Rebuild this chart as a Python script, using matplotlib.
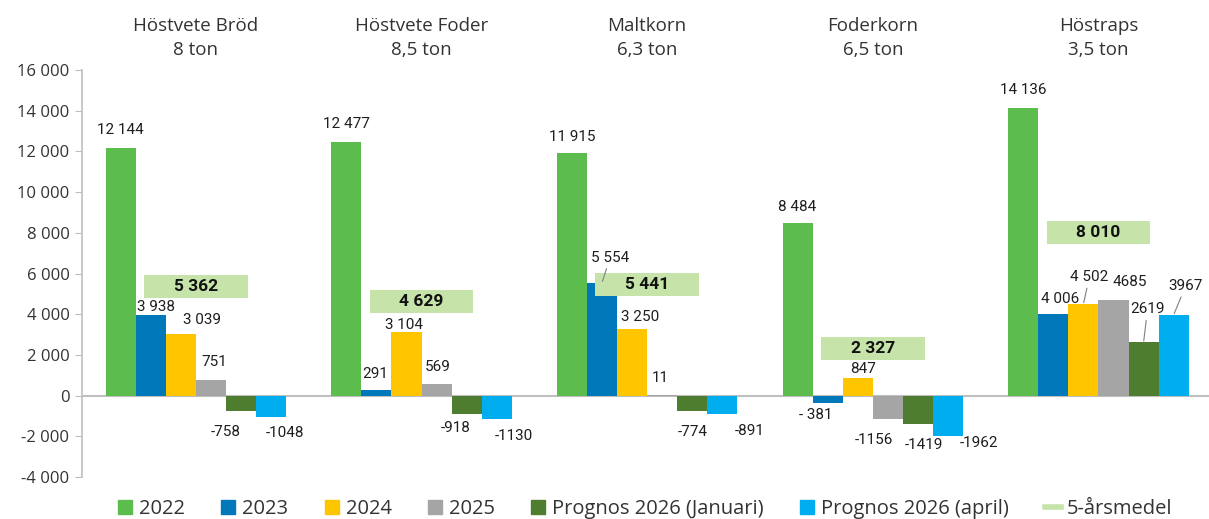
import matplotlib
matplotlib.use("Agg")
import matplotlib.pyplot as plt
from matplotlib.patches import Rectangle
from matplotlib.lines import Line2D
import numpy as np

# data
crops = ["Höstvete Bröd\n8 ton", "Höstvete Foder\n8,5 ton", "Maltkorn\n6,3 ton",
         "Foderkorn\n6,5 ton", "Höstraps\n3,5 ton"]
series_names = ["2022", "2023", "2024", "2025", "Prognos 2026 (Januari)", "Prognos 2026 (april)"]
v2022 = [12144, 12477, 11915, 8484, 14136]
v2023 = [3938, 291, 5554, -381, 4006]
v2024 = [3039, 3104, 3250, 847, 4502]
v2025 = [751, 569, 11, -1156, 4685]
prog_jan = [-758, -918, -774, -1419, 2619]
prog_apr = [-1048, -1130, -891, -1962, 3967]
medel = [5362, 4629, 5441, 2327, 8010]
yticks = [-4000, -2000, 0, 2000, 4000, 6000, 8000, 10000, 12000, 14000, 16000]

colors = ["#5CBD4E", "#0078BA", "#FFC600", "#A5A5A5", "#4E7D30", "#00AEEF"]
medel_color = "#C6E3A9"
spaced = [True, True, True, False, False, False]

# label offsets in pixels (dx, dy) from bar end, one row per series
offsets = [
    [(0, 18), (0, 18), (0, 16), (0, 16), (0, 18)],
    [(5, 8), (-1, 16), (8, 25), (-12, -12), (7, 15)],
    [(21, 14), (-3, 7), (8, 12), (5, 9), (6, 27)],
    [(3, 18), (1, 17), (-2, 17), (-14, -21), (16, 18)],
    [(-15, -21), (-11, -14), (0, -21), (6, -21), (4, 33)],
    [(14, -16), (17, -17), (27, -17), (31, -7), (12, 29)],
]
leaders = [(1, 2), (2, 4), (4, 4), (5, 4)]


def fmt(v, space):
    if not space:
        return str(v)
    s = f"{abs(v):,}".replace(",", " ")
    return "- " + s if v < 0 else s


def main():
    plt.rcParams["font.family"] = ["Open Sans", "DejaVu Sans"]
    fig = plt.figure(figsize=(12.09, 5.19), dpi=100)
    ax = fig.add_axes([0.0678, 0.0809, 0.9322, 0.7842])

    all_series = [v2022, v2023, v2024, v2025, prog_jan, prog_apr]
    x = np.arange(len(crops))
    n = len(all_series)
    w = 0.8 / n

    for k, vals in enumerate(all_series):
        xs = x - 0.4 + w * (k + 0.5)
        ax.bar(xs, vals, width=w, color=colors[k], label=series_names[k], zorder=2)
        for i, v in enumerate(vals):
            dx, dy = offsets[k][i]
            kw = {}
            if (k, i) in leaders:
                kw["arrowprops"] = dict(arrowstyle="-", color="#7f7f7f", lw=0.8,
                                        shrinkA=1, shrinkB=1)
            ax.annotate(fmt(v, spaced[k]), xy=(xs[i], v), xytext=(dx, dy),
                        textcoords="offset pixels", ha="center", va="center",
                        fontsize=11, color="#1e1e1e", family=["Roboto", "DejaVu Sans"],
                        zorder=5, **kw)

    # 5-årsmedel boxes
    bw, bh = 0.46, 1130
    for i, m in enumerate(medel):
        ax.add_patch(Rectangle((x[i] - bw / 2, m - bh / 2), bw, bh,
                               facecolor=medel_color, edgecolor="none", zorder=4))
        ax.text(x[i], m, fmt(m, True), ha="center", va="center", fontsize=12.5,
                fontweight="bold", color="#111111", zorder=6,
                family=["Roboto", "DejaVu Sans"])

    ax.axhline(0, color="#BFBFBF", lw=1.5, zorder=1)
    ax.set_xlim(-0.505, 4.49)
    ax.set_ylim(-4000, 16000)
    ax.set_yticks(yticks)
    ax.set_yticklabels([f"{t:,}".replace(",", " ") for t in yticks])
    ax.tick_params(axis="y", direction="out", length=5, color="#BFBFBF",
                   labelsize=12, labelcolor="#333333", pad=4)

    ax.set_xticks(x)
    ax.set_xticklabels(crops)
    ax.xaxis.set_ticks_position("top")
    ax.tick_params(axis="x", length=0, labelsize=13.5, labelcolor="#333333", pad=8)
    for lbl in ax.get_xticklabels():
        lbl.set_linespacing(1.42)

    for s in ["top", "right", "bottom"]:
        ax.spines[s].set_visible(False)
    ax.spines["left"].set_color("#BFBFBF")
    ax.spines["left"].set_linewidth(1.2)

    handles = [Line2D([], [], marker="s", ls="none", color=c, markersize=10) for c in colors]
    handles.append(Line2D([], [], color=medel_color, lw=4))
    labels = series_names + ["5-årsmedel"]
    fig.legend(handles, labels, loc="lower center", bbox_to_anchor=(0.533, -0.035), ncol=7,
               frameon=False, fontsize=14.5, handlelength=0.8, handletextpad=0.3,
               columnspacing=1.75, labelcolor="#333333")

    fig.savefig("out.png", dpi=100)


if __name__ == "__main__":
    main()
